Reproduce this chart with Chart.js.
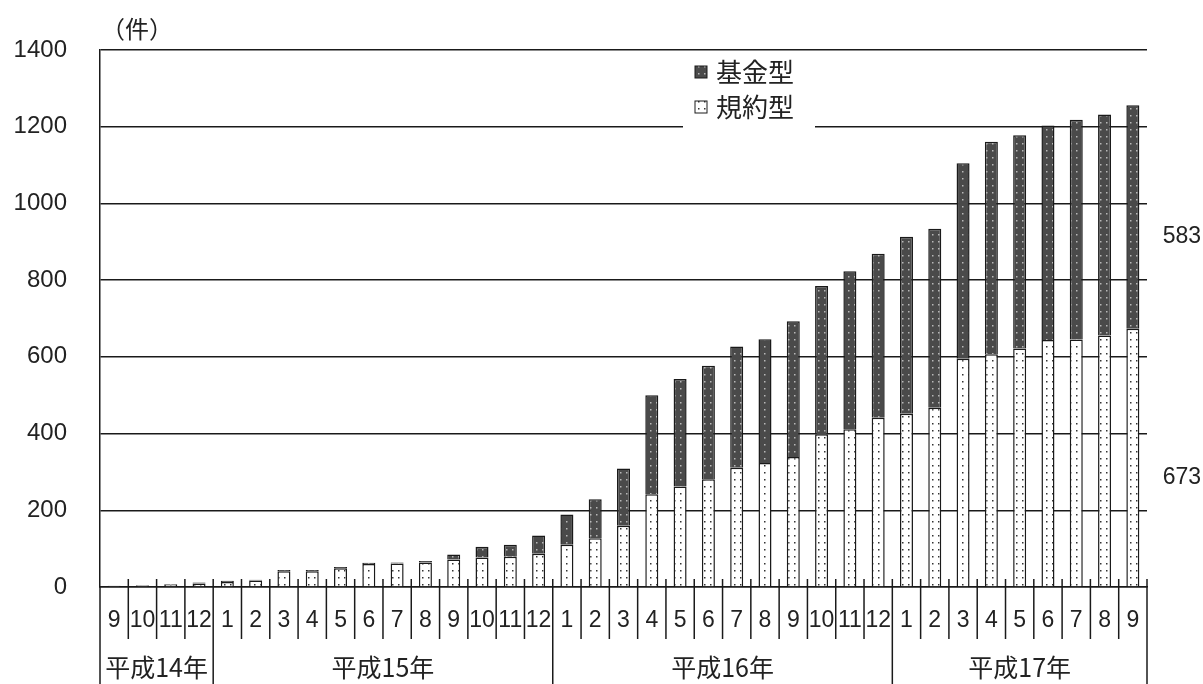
<!DOCTYPE html>
<html>
<head>
<meta charset="utf-8">
<script src="https://cdn.jsdelivr.net/npm/chart.js"></script>
<style>
  html, body { margin: 0; padding: 0; background: #fff; }
  canvas { display: block; }
</style>
</head>
<body>
<canvas id="chart" width="1203" height="684"></canvas>
<script>
// 月 (平成14年9月 〜 平成17年9月)
const months = [
  "9", "10", "11", "12",
  "1", "2", "3", "4", "5", "6", "7", "8", "9", "10", "11", "12",
  "1", "2", "3", "4", "5", "6", "7", "8", "9", "10", "11", "12",
  "1", "2", "3", "4", "5", "6", "7", "8", "9",
];
const yearLabels = ["平成14年", "平成15年", "平成16年", "平成17年"];
const yearMonthCounts = [4, 12, 12, 9];

// 規約型 (下段)
const kiyakuData = [
  3, 4, 6, 9,
  13, 17, 41, 41, 49, 60, 61, 64, 72, 77, 79, 87,
  110, 127, 160, 242, 262, 281, 311, 323, 339, 398, 411, 441,
  452, 467, 595, 607, 622, 644, 645, 656, 673,
];
// 基金型 (上段)
const kikinData = [
  0, 1, 2, 3,
  3, 2, 3, 3, 3, 3, 3, 4, 13, 28, 31, 47,
  79, 102, 149, 258, 280, 296, 316, 323, 354, 387, 412, 428,
  461, 467, 510, 554, 556, 559, 573, 576, 583,
];

const yTicks = [0, 200, 400, 600, 800, 1000, 1200, 1400];

const numFont = '"Liberation Sans", Arial, "Noto Sans CJK JP", sans-serif';
const jpFont = '"Noto Sans CJK JP", "Liberation Sans", sans-serif';
const lineColor = "#1a1a1a";

function makePattern(bg, dot) {
  const c = document.createElement("canvas");
  c.width = 6;
  c.height = 7;
  const g = c.getContext("2d");
  g.fillStyle = bg;
  g.fillRect(0, 0, 6, 7);
  g.fillStyle = dot;
  g.fillRect(2, 3, 1.5, 1.5);
  return g.createPattern(c, "repeat");
}

const darkFill = makePattern("#4a4a4a", "#b8b8b8");
const lightFill = makePattern("#ffffff", "#333333");

// 目盛外の飾り: 区切り線、年ラベル、凡例、単位、右側の数値
const decorations = {
  id: "decorations",
  afterDraw(chart) {
    const ctx = chart.ctx;
    const x = chart.scales.x;
    const y = chart.scales.y;
    const n = months.length;
    const step = x.width / n;
    const base = y.getPixelForValue(0);

    ctx.save();
    ctx.strokeStyle = lineColor;
    ctx.lineWidth = 1.5;

    // 月の区切り線と年の区切り線
    const yearEdges = [0];
    yearMonthCounts.reduce((acc, c) => { yearEdges.push(acc + c); return acc + c; }, 0);
    for (let i = 0; i <= n; i++) {
      const px = x.left + i * step;
      const isYear = yearEdges.includes(i);
      ctx.beginPath();
      if (isYear) {
        ctx.moveTo(px, i === 0 ? base : base - 8);
        ctx.lineTo(px, chart.height);
      } else {
        ctx.moveTo(px, base - 8);
        ctx.lineTo(px, base + 52);
      }
      ctx.stroke();
    }

    // 年ラベル
    ctx.fillStyle = "#222";
    ctx.font = "25px " + jpFont;
    ctx.textAlign = "center";
    ctx.textBaseline = "middle";
    for (let k = 0; k < yearLabels.length; k++) {
      const a = x.left + yearEdges[k] * step;
      const b = x.left + yearEdges[k + 1] * step;
      ctx.fillText(yearLabels[k], (a + b) / 2, base + 80);
    }

    // 単位
    ctx.font = "24px " + jpFont;
    ctx.textAlign = "left";
    ctx.fillText("（件）", 101, 29);

    // 凡例
    ctx.fillStyle = "#fff";
    ctx.fillRect(683, 52, 132, 77);
    const items = [
      { label: chart.data.datasets[1].label, fill: darkFill, yc: 72 },
      { label: chart.data.datasets[0].label, fill: lightFill, yc: 107 },
    ];
    ctx.font = "26px " + jpFont;
    items.forEach((it) => {
      ctx.fillStyle = it.fill;
      ctx.fillRect(695, it.yc - 6, 12, 12);
      ctx.lineWidth = 1;
      ctx.strokeRect(695, it.yc - 6, 12, 12);
      ctx.fillStyle = "#222";
      ctx.fillText(it.label, 716, it.yc);
    });

    // 最終月の内訳
    const lastK = kiyakuData[n - 1];
    const lastF = kikinData[n - 1];
    ctx.font = "23px " + numFont;
    ctx.textAlign = "right";
    ctx.fillText(String(lastF), 1201, y.getPixelForValue(lastK + lastF / 2) + 20);
    ctx.fillText(String(lastK), 1201, y.getPixelForValue(lastK / 2) + 20);

    ctx.restore();
  },
};

new Chart(document.getElementById("chart"), {
  type: "bar",
  data: {
    labels: months,
    datasets: [
      {
        label: "規約型",
        data: kiyakuData,
        backgroundColor: lightFill,
        borderColor: lineColor,
        borderWidth: 1.5,
      },
      {
        label: "基金型",
        data: kikinData,
        backgroundColor: darkFill,
        borderColor: lineColor,
        borderWidth: 1.5,
      },
    ],
  },
  options: {
    responsive: false,
    animation: false,
    layout: { padding: { top: 50, right: 56, left: 0, bottom: 0 } },
    datasets: { bar: { barPercentage: 0.46, categoryPercentage: 1 } },
    plugins: {
      legend: { display: false },
      tooltip: { enabled: false },
    },
    scales: {
      x: {
        stacked: true,
        grid: { display: false, drawTicks: false },
        border: { display: true, color: lineColor, width: 1.5 },
        ticks: {
          autoSkip: false,
          maxRotation: 0,
          padding: 20,
          color: "#222",
          font: { family: numFont, size: 23 },
        },
        afterFit(s) { s.height = 97; },
      },
      y: {
        stacked: true,
        min: 0,
        max: 1400,
        afterBuildTicks(s) { s.ticks = yTicks.map((v) => ({ value: v })); },
        grid: { color: lineColor, lineWidth: 1.5, drawTicks: false },
        border: { display: true, color: lineColor, width: 1.5 },
        ticks: {
          padding: 33,
          color: "#222",
          font: { family: numFont, size: 24 },
          callback: (v) => String(v),
        },
        afterFit(s) { s.width = 100; },
      },
    },
  },
  plugins: [decorations],
});
</script>
</body>
</html>
